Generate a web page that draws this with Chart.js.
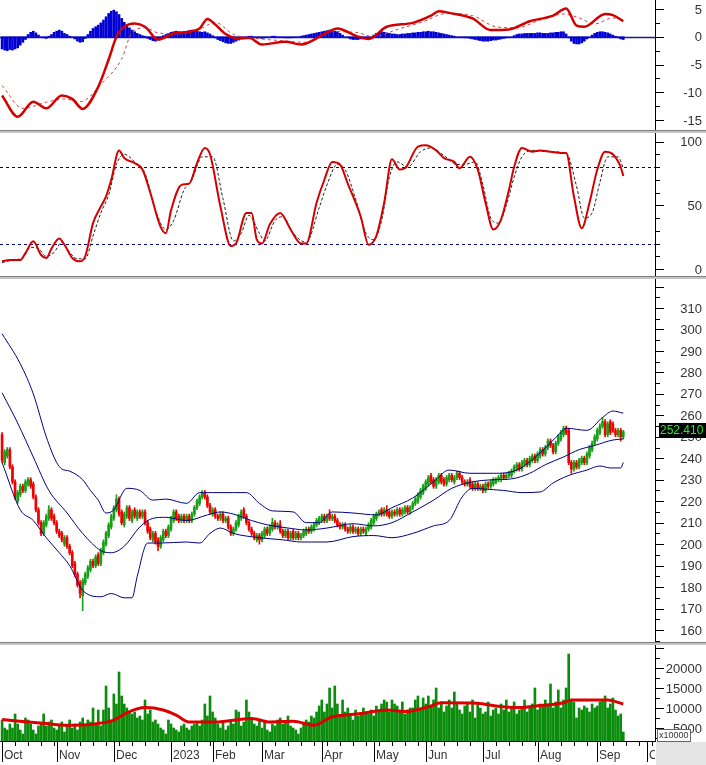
<!DOCTYPE html>
<html><head><meta charset="utf-8">
<script src="https://cdn.jsdelivr.net/npm/chart.js@4.4.0/dist/chart.umd.min.js"></script>
<style>
html,body{margin:0;padding:0;background:#fff;}
#wrap{position:relative;width:706px;height:765px;overflow:hidden;background:#fff;}
canvas{position:absolute;left:0;}
.sep{position:absolute;left:0;width:706px;height:3px;background:#c4c4c4;border-top:1px solid #808080;box-sizing:border-box;}
</style></head><body>
<div id="wrap">
<canvas id="cMacd" width="706" height="130" style="top:0px"></canvas>
<div class="sep" style="top:130px"></div>
<canvas id="cStoch" width="706" height="143" style="top:133px"></canvas>
<div class="sep" style="top:276px"></div>
<canvas id="cPrice" width="706" height="363" style="top:279px"></canvas>
<div class="sep" style="top:642px"></div>
<canvas id="cVol" width="706" height="120" style="top:645px"></canvas>
</div>
<script>
// ---------- DATA ----------
const monthLabels = ['Oct','Nov','Dec','2023','Feb','Mar','Apr','May','Jun','Jul','Aug','Sep','Oct'];
const monthStarts = [0,21,43,65,81,100,123,143,163,185,206,229,248];

const opens = [
251,238,241,244,236,229,220,223,227,225,
228,230,228,222,216,210,205,209,212,216,
213,210,206,205,200,203,199,196,191,186,
182,176,182,185,188,192,190,195,191,196,
200,204,208,212,216,221,215,209,213,217,
211,216,212,215,213,215,210,207,202,205,
202,199,202,206,204,207,211,215,213,211,
213,211,213,211,214,217,219,222,224,222,
218,214,216,213,212,214,211,212,208,205,
207,209,212,216,213,210,207,205,202,204,
202,204,207,205,207,210,208,209,206,204,
206,203,206,203,205,203,204,205,207,206,
207,209,210,211,213,211,214,212,213,211,
209,208,209,207,206,208,206,207,205,207,
205,207,208,210,212,214,216,214,216,215,
213,215,214,216,214,215,217,215,217,219,
220,222,224,226,228,232,230,227,229,232,
230,228,230,232,229,231,233,231,229,228,
230,228,226,228,226,227,225,228,227,228,
229,230,230,232,231,232,232,234,235,237,
235,237,239,237,239,241,239,241,244,242,
245,248,246,243,247,249,251,254,253,238,
235,238,236,238,240,238,241,244,247,249,
252,255,257,251,257,256,253,251,253,250];

const highs = [
252,244,245,245,237,230,225,228,228,230,
231,231,229,223,217,211,211,214,218,217,
214,211,207,206,204,204,200,197,192,187,
183,184,187,190,193,193,195,196,198,202,
206,210,214,218,223,222,216,215,218,218,
216,217,216,216,216,216,211,208,206,206,
203,204,207,207,209,213,216,216,214,214,
214,214,214,215,218,221,223,225,225,223,
219,217,217,214,215,215,213,213,209,208,
211,214,216,217,214,211,208,206,205,205,
206,208,208,209,212,211,210,211,207,207,
207,206,207,206,206,205,207,208,208,209,
210,212,213,214,214,214,216,214,214,212,
210,210,210,208,209,209,208,208,208,208,
208,210,212,214,215,216,217,217,218,216,
216,216,217,217,217,218,218,218,220,222,
224,226,228,230,232,233,231,231,233,233,
231,232,233,233,232,234,234,232,230,230,
231,229,229,229,228,228,229,229,230,231,
231,232,233,233,233,234,235,237,238,238,
239,240,240,241,242,242,243,245,245,246,
249,249,247,248,251,253,255,255,254,239,
239,239,240,241,241,243,246,248,251,254,
256,259,258,257,258,257,254,254,254,253];

const lows = [
238,237,240,235,228,221,219,222,224,224,
227,226,221,215,209,204,204,208,211,211,
209,205,203,201,199,198,195,189,185,180,
175,169,181,184,187,189,189,190,190,195,
199,203,207,211,215,213,209,208,212,211,
210,212,211,212,212,209,205,202,201,200,
197,198,201,203,203,206,210,211,210,210,
210,210,210,210,213,216,218,221,221,217,
214,213,212,211,211,210,210,207,204,204,
206,208,211,212,209,206,204,202,201,200,
201,203,204,204,206,207,207,205,203,203,
202,202,202,202,202,202,203,204,205,205,
206,208,209,210,210,210,211,211,210,208,
207,207,206,205,205,205,205,204,204,205,
204,206,207,209,211,213,213,213,213,212,
212,213,213,213,213,214,214,214,216,218,
219,221,223,225,227,228,226,226,228,228,
227,227,229,229,228,230,230,228,227,227,
226,225,225,225,225,224,224,226,226,227,
228,229,229,230,230,231,231,233,234,234,
234,236,236,236,238,238,238,240,241,241,
244,245,242,242,246,248,250,251,237,233,
234,235,235,237,237,237,240,243,246,248,
251,254,250,250,251,252,250,250,248,249];

const closes = [
239,243,244,236,229,222,224,227,225,229,
230,227,222,216,210,205,210,213,216,212,
210,206,204,202,203,199,196,190,186,181,
177,183,186,189,192,190,194,191,197,201,
205,209,213,217,221,214,210,214,217,212,
215,213,215,213,215,210,206,203,205,201,
199,203,206,204,208,212,215,212,211,213,
211,213,211,214,217,220,222,224,222,218,
215,216,213,212,214,211,212,208,205,207,
210,213,215,213,210,207,205,203,204,202,
205,207,205,208,210,208,209,206,204,206,
203,205,203,205,203,204,206,207,206,208,
209,211,212,213,211,213,212,213,211,209,
208,209,207,206,208,206,207,205,207,206,
207,209,211,213,214,215,214,216,214,213,
215,214,216,214,216,217,215,217,219,221,
223,225,227,229,231,229,227,230,232,229,
228,231,232,230,231,233,231,229,228,229,
227,226,228,226,227,225,228,227,229,230,
230,231,232,231,232,233,234,236,237,235,
238,239,237,240,241,239,242,244,242,245,
248,246,243,247,250,252,254,252,238,235,
238,236,239,240,238,242,245,247,250,253,
255,257,251,256,252,253,251,253,250,252.41];

// volume in units of 10000
const volumes = [
7000,5000,4500,6000,5000,8500,6000,4500,3500,7500,
7000,6000,4500,3500,5500,6000,8500,5500,6500,7000,
5000,4500,5500,6500,4000,5500,7000,5000,6000,4500,
6500,7500,5500,7000,6500,10000,6000,9500,5500,9500,
15500,10000,7000,13500,11000,19000,13000,11000,10000,9000,
8500,9000,7500,8000,7000,12000,8500,9500,6500,7000,
6000,5000,4500,3500,7000,6000,5000,4500,4000,5500,
6000,5000,4500,5500,6000,6500,5500,7000,11000,8000,
13000,9000,7500,6000,5000,6500,4500,5500,7000,6000,
9500,9000,5500,6500,12000,9000,7500,6000,5500,7000,
5000,6500,4500,4000,6000,5500,7000,7500,6000,6500,
8000,5500,5000,4500,3500,5000,6000,7000,6500,8000,
7500,9000,10500,12000,9000,11000,15000,10000,15500,11000,
8000,12000,9000,10000,8500,7000,9500,8000,8500,10000,
9000,8500,9500,8000,10500,9000,11000,12000,11500,9000,
12000,11000,10500,9000,11500,8500,9500,10000,10000,12000,
13000,9500,12500,11000,13000,10500,12000,15000,10000,11500,
9000,10500,12000,10000,14000,11000,9500,8500,10500,11000,
9000,12000,7500,11000,10000,8500,9000,11500,8000,9500,
10000,8500,11000,9500,12000,9000,10000,11500,8500,9500,
10000,12000,9000,10500,11000,15000,9500,11000,10500,12000,
11000,16000,10000,11500,14500,10000,12000,15000,23500,12000,
11500,7500,10000,9500,10500,10000,9000,11000,10000,10500,
11500,12000,13000,10000,11000,12500,9500,8000,8500,4000];

const volMA = [[0,7100],[17,6100],[25,5700],[34,5900],[43,6950],[48,8800],[55,10100],[62,9500],[67,8200],[72,6500],[82,6500],[96,7400],[103,6500],[112,6700],[120,5700],[127,7800],[138,8600],[148,9500],[155,9100],[164,10300],[169,11300],[183,11200],[190,10500],[199,10100],[207,10600],[216,11300],[219,12000],[230,12000],[233,12000],[239,11000]];

const macdHist = [
-2.2,-2.4,-2.5,-2.3,-2.4,-2.2,-2.0,-1.5,-1.0,-0.5,
0.4,0.8,1.0,0.7,0.3,-0.1,-0.2,-0.3,0.1,0.4,
0.8,1.0,1.2,1.0,0.6,0.4,0.1,-0.1,-0.4,-0.8,
-1.0,-0.9,-0.3,0.4,1.0,1.5,1.8,2.1,2.5,3.0,
3.6,4.2,4.6,4.8,4.5,4.0,3.3,2.6,2.0,1.6,
1.2,0.9,0.6,0.4,0.2,0.1,-0.3,-0.5,-0.7,-0.8,
-0.6,-0.3,0.2,0.4,0.6,0.8,0.9,1.0,0.9,0.8,
0.9,1.0,1.1,1.2,1.1,1.0,0.9,0.8,0.9,0.7,
0.5,0.2,-0.2,-0.5,-0.7,-0.9,-1.1,-1.2,-1.2,-1.0,
-0.8,-0.6,-0.3,-0.1,0.0,0.1,0.1,0.0,-0.1,-0.2,
-0.3,-0.2,-0.1,0.0,0.1,0.1,0.0,-0.1,-0.1,-0.2,
-0.2,-0.2,-0.1,-0.1,0.0,0.1,0.2,0.3,0.4,0.5,
0.6,0.7,0.8,0.9,1.0,1.1,1.2,1.1,1.0,0.9,
0.6,0.3,0.0,-0.2,-0.4,-0.5,-0.5,-0.5,-0.4,-0.4,
-0.3,-0.2,0.0,0.3,0.6,0.8,0.9,0.8,0.7,0.6,
0.5,0.5,0.4,0.4,0.5,0.5,0.6,0.6,0.7,0.7,
0.8,0.8,0.9,0.9,1.0,0.9,0.9,0.8,0.7,0.6,
0.5,0.4,0.3,0.2,0.1,0.0,-0.1,-0.1,-0.2,-0.2,
-0.3,-0.4,-0.5,-0.6,-0.7,-0.8,-0.8,-0.8,-0.7,-0.6,
-0.6,-0.5,-0.4,-0.3,-0.2,-0.1,0.0,0.2,0.4,0.5,
0.5,0.6,0.6,0.6,0.6,0.6,0.7,0.7,0.6,0.6,
0.6,0.7,0.7,0.8,0.8,0.9,0.9,0.5,-0.2,-0.8,
-1.2,-1.3,-1.3,-1.1,-0.8,-0.4,0.0,0.3,0.6,0.8,
0.9,0.9,0.8,0.7,0.5,0.3,0.1,-0.2,-0.4,-0.5];

const macdLine = [[0,-10.6],[6,-14.4],[12,-11.7],[17,-12.9],[23,-10.6],[27,-11.2],[31,-13.0],[37,-9.0],[41,-4.1],[44,0],[47,1.8],[51,2.4],[55,1.8],[60,-0.5],[66,0.6],[72,0.9],[76,1.5],[79,3.2],[82,2.2],[86,0.5],[91,-0.3],[95,-0.2],[100,-1.4],[109,-0.9],[115,-1.4],[124,0.5],[129,1.5],[136,0.2],[141,-0.4],[148,1.8],[158,2.5],[165,3.8],[168,4.6],[172,4.3],[181,3.3],[188,1.2],[195,1.3],[203,2.8],[212,3.8],[217,5.1],[221,2.0],[224,1.8],[232,4.1],[235,3.9],[239,2.8]];
const macdSignal = [[0,-8.8],[8,-12.9],[17,-11.8],[24,-11.2],[30,-11.7],[39,-8.1],[46,-4.0],[50,0.8],[55,1.6],[60,0.7],[68,0.5],[77,1.6],[82,2.6],[89,0.4],[96,-0.2],[107,-0.7],[117,-1.0],[127,0.9],[136,0.8],[143,0.0],[152,1.3],[162,2.7],[171,4.2],[181,3.8],[190,1.8],[198,1.6],[207,3.0],[216,4.1],[222,3.4],[228,2.3],[235,3.4],[239,3.0]];

const stochK = [[0,6],[3,7],[7,7],[9,12.5],[12,21.7],[15,11],[17,8.6],[19,16],[22,24],[24,19],[27,8.6],[30,6],[32,10],[35,36],[38,49],[40,57],[42,70],[45,93],[47,87],[51,83],[54,78],[57,60],[61,33],[63,28],[65,46],[69,66],[72,67],[75,83],[78,95],[80,90],[84,49],[88,18],[90,20],[94,44],[96,44],[98,23],[100,20],[103,35],[107,44],[111,31],[115,20],[117,20],[121,52],[124,70],[127,84],[130,82],[133,67],[138,41],[141,19],[144,26],[147,52],[150,86],[153,78],[155,79],[160,96],[163,97],[167,93],[170,87],[174,84],[176,79],[180,88],[183,78],[186,52],[189,31],[192,39],[195,62],[197,80],[200,95],[204,92],[207,93],[211,92],[215,91],[217,91],[220,57],[223,32],[226,52],[229,78],[232,92],[235,90],[238,80],[239,73]];
const stochD = [[0,5],[4,7],[8,9],[11,17],[14,16],[17,10],[20,13],[23,21],[26,13],[29,8],[32,8],[35,26],[38,44],[41,58],[44,82],[47,90],[51,84],[55,75],[59,46],[63,31],[66,38],[70,62],[73,70],[77,88],[81,88],[85,55],[89,22],[92,28],[95,42],[99,28],[101,22],[105,38],[108,41],[112,28],[117,21],[122,48],[125,66],[129,82],[132,78],[136,55],[140,28],[143,23],[146,38],[149,72],[152,84],[156,80],[161,92],[165,95],[170,89],[175,82],[178,82],[182,84],[185,66],[188,40],[191,36],[194,50],[197,72],[200,88],[204,93],[210,92],[217,91],[221,65],[224,40],[227,44],[230,68],[233,88],[237,88],[239,79]];
const stochLevels = [20, 80];

const bbUpper = [[0,298],[7,284],[12,270],[17,250],[21,238],[23,235],[26,234],[31,230],[34,225],[37,220.5],[40,214.5],[43,216],[48,226],[53,225],[58,220.5],[63,221],[71,219],[76,224],[81,224],[89,224],[94,224],[99,219],[104,215.5],[112,215],[117,210],[122,210],[127,215],[135,214.5],[144,213.6],[150,217],[158,221.5],[166,229],[172,234.5],[180,233],[189,233],[198,234.5],[207,242.5],[215,252],[217,254],[225,253],[231,259],[235,262],[239,261]];
const bbMid = [[0,270.5],[6,256.4],[12,240.6],[18,225],[25,214.5],[31,205],[38,197],[42,196],[47,199],[53,208],[58,212],[63,212.5],[71,211],[79,213.6],[84,215],[89,214],[96,211],[102,209],[110,207.5],[117,206.6],[125,207.5],[135,209.5],[143,208.5],[150,210],[158,215],[166,220.5],[173,226],[181,229],[189,230],[196,230.4],[203,233],[209,237],[216,240.6],[222,244],[228,246],[235,248.5],[239,249]];
const bbLower = [[0,238],[7,216],[12,211],[17,203],[22,196],[26,190],[31,178.5],[38,175.5],[42,177],[47,175],[50,175],[52,185],[56,200.5],[61,200.5],[71,201],[76,200.5],[80,205],[84,207.5],[89,205],[99,203],[108,202],[115,201],[125,201],[135,203.5],[143,204],[150,203],[158,205],[166,208.5],[172,211],[177,222],[181,226],[185,225.7],[193,225],[200,224],[207,224.3],[212,228.5],[218,232],[225,234.5],[230,236.4],[234,235.5],[238,235.5],[239,238]];

const macdTickLabels = [5,0,-5,-10,-15];
const stochTickLabels = [0,50,100];
const priceTickLabels = [160,170,180,190,200,210,220,230,240,250,260,270,280,290,300,310];
const volTickLabels = [5000,10000,15000,20000];

// ---------- RENDERING ----------
const X_MIN = -0.8, X_MAX = 251.2;
const GREEN = '#16a016', RED = '#f00000', NAVY = '#000080';
const idx = closes.map((_, i) => i);
const pts = arr => arr.map(([x, y]) => ({x, y}));
const isUp = i => closes[i] >= opens[i];
const AXIS_FONT = '13px "Liberation Sans", Arial, sans-serif';

function baseOptions(ymin, ymax, bottomPad) {
  return {
    responsive: false, animation: false, devicePixelRatio: 1, maintainAspectRatio: false,
    layout: {padding: {left: 0, top: 0, right: 51, bottom: bottomPad || 0}},
    plugins: {legend: {display: false}, tooltip: {enabled: false}},
    scales: {
      x: {type: 'linear', min: X_MIN, max: X_MAX, display: false, offset: false},
      y: {type: 'linear', min: ymin, max: ymax, display: false}
    }
  };
}

function rightAxis(opt) {
  return {id: 'rightAxis', afterDraw(chart) {
    const ctx = chart.ctx, a = chart.chartArea, ys = chart.scales.y;
    ctx.save();
    ctx.strokeStyle = '#000'; ctx.lineWidth = 1;
    ctx.beginPath();
    ctx.moveTo(a.right + 0.5, a.top); ctx.lineTo(a.right + 0.5, a.bottom);
    const start = Math.ceil(ys.min / opt.minor) * opt.minor;
    for (let k = 0; ; k++) {
      const v = start + k * opt.minor;
      if (v > ys.max) break;
      const py = Math.round(ys.getPixelForValue(v)) + 0.5;
      const r = v / opt.major;
      const isMaj = Math.abs(r - Math.round(r)) < 1e-6;
      ctx.moveTo(a.right, py); ctx.lineTo(a.right + (isMaj ? 9 : 5), py);
    }
    ctx.stroke();
    ctx.font = AXIS_FONT; ctx.fillStyle = '#333'; ctx.textAlign = 'right'; ctx.textBaseline = 'middle';
    opt.labels.forEach(v => ctx.fillText(String(v), 702, ys.getPixelForValue(v) + 1));
    if (opt.after) opt.after(chart);
    ctx.restore();
  }};
}

function hLines(levels, color, dash, width) {
  return {id: 'hLines', beforeDatasetsDraw(chart) {
    const ctx = chart.ctx, a = chart.chartArea, ys = chart.scales.y;
    ctx.save();
    ctx.strokeStyle = color; ctx.lineWidth = width; ctx.setLineDash(dash);
    ctx.beginPath();
    levels.forEach(v => { const py = Math.round(ys.getPixelForValue(v)) + 0.5; ctx.moveTo(a.left, py); ctx.lineTo(a.right, py); });
    ctx.stroke();
    ctx.restore();
  }};
}

function lineDS(data, color, width, dash, order) {
  return {type: 'line', data: pts(data), borderColor: color, borderWidth: width, borderDash: dash || [],
    pointRadius: 0, fill: false, tension: 0.35, cubicInterpolationMode: 'monotone', order: order || 0};
}

// MACD panel
new Chart(document.getElementById('cMacd'), {
  type: 'bar',
  data: {datasets: [
    lineDS(macdLine, '#d40000', 2.5, [], 0),
    lineDS(macdSignal, '#d04040', 1, [3, 3], 1),
    {type: 'bar', data: idx.map(i => ({x: i, y: macdHist[i]})), backgroundColor: '#0000d0',
     barThickness: 2, grouped: false, order: 5}
  ]},
  options: baseOptions(-16.8, 6.62),
  plugins: [hLines([0], '#1a1a90', [], 1.5), rightAxis({major: 5, minor: 2.5, labels: macdTickLabels})]
});

// Stochastic panel
new Chart(document.getElementById('cStoch'), {
  type: 'line',
  data: {datasets: [
    lineDS(stochK, '#d40000', 2, [], 0),
    lineDS(stochD, '#222222', 1, [3, 2], 1)
  ]},
  options: baseOptions(-5.49, 106.67),
  plugins: [hLines(stochLevels, NAVY, [3, 3], 1), rightAxis({major: 50, minor: 10, labels: stochTickLabels})]
});

// Price panel
const priceTag = {id: 'priceTag', afterDraw(chart) {
  const ctx = chart.ctx, a = chart.chartArea, ys = chart.scales.y;
  const last = closes[closes.length - 1];
  const py = Math.round(ys.getPixelForValue(last)) - 2;
  ctx.save();
  ctx.fillStyle = '#000'; ctx.fillRect(a.right + 4, py - 7, 47, 15);
  ctx.font = '12px "Liberation Sans", Arial, sans-serif'; ctx.fillStyle = '#22ee22';
  ctx.textAlign = 'left'; ctx.textBaseline = 'middle';
  ctx.fillText(last.toFixed(3), a.right + 5, py + 1);
  ctx.restore();
}};
new Chart(document.getElementById('cPrice'), {
  type: 'bar',
  data: {datasets: [
    lineDS(bbUpper, NAVY, 1, [], 0),
    lineDS(bbMid, NAVY, 1, [], 0),
    lineDS(bbLower, NAVY, 1, [], 0),
    {type: 'bar', data: idx.map(i => ({x: i, y: [lows[i], highs[i]]})),
     backgroundColor: idx.map(i => isUp(i) ? GREEN : RED), barThickness: 1, grouped: false, order: 6},
    {type: 'bar', data: idx.map(i => ({x: i, y: [opens[i], closes[i]]})),
     backgroundColor: idx.map(i => isUp(i) ? GREEN : RED), barThickness: 2, grouped: false, order: 5}
  ]},
  options: baseOptions(154.41, 323.51),
  plugins: [rightAxis({major: 10, minor: 5, labels: priceTickLabels}), priceTag]
});

// Volume panel
const xAxisDraw = {id: 'xAxisDraw', afterDraw(chart) {
  const ctx = chart.ctx, a = chart.chartArea, xs = chart.scales.x, H = chart.height, W = chart.width;
  ctx.save();
  ctx.fillStyle = '#e4e4e4'; ctx.fillRect(a.right + 1, a.bottom + 1, W - a.right - 1, H - a.bottom - 1);
  ctx.strokeStyle = '#000'; ctx.lineWidth = 1;
  ctx.beginPath();
  ctx.moveTo(0, a.bottom + 0.5); ctx.lineTo(a.right + 1, a.bottom + 0.5);
  for (let i = 0; i <= X_MAX; i += 5) {
    const px = Math.round(xs.getPixelForValue(i)) + 0.5;
    if (px >= a.right) break;
    ctx.moveTo(px, a.bottom); ctx.lineTo(px, a.bottom + 5);
  }
  monthStarts.forEach(i => {
    const px = Math.round(xs.getPixelForValue(i)) + 0.5;
    if (px < a.right) { ctx.moveTo(px, a.bottom); ctx.lineTo(px, H - 3); }
  });
  ctx.stroke();
  ctx.beginPath(); ctx.rect(0, a.bottom, a.right, H - a.bottom); ctx.clip();
  ctx.font = '12px "Liberation Sans", Arial, sans-serif'; ctx.fillStyle = '#333';
  ctx.textAlign = 'left'; ctx.textBaseline = 'alphabetic';
  monthStarts.forEach((i, k) => ctx.fillText(monthLabels[k], Math.round(xs.getPixelForValue(i)) + 2, H - 6));
  ctx.restore();
}};
const multBox = chart => {
  const ctx = chart.ctx, a = chart.chartArea;
  ctx.fillStyle = '#fff'; ctx.fillRect(a.right + 2, a.bottom - 12, 33, 12);
  ctx.strokeStyle = '#666'; ctx.lineWidth = 1; ctx.strokeRect(a.right + 2.5, a.bottom - 11.5, 33, 12);
  ctx.font = '9px "Liberation Sans", Arial, sans-serif'; ctx.fillStyle = '#333';
  ctx.textAlign = 'left'; ctx.textBaseline = 'middle';
  ctx.fillText('x10000', a.right + 4, a.bottom - 5);
};
new Chart(document.getElementById('cVol'), {
  type: 'bar',
  data: {datasets: [
    lineDS(volMA, '#dd0000', 3, [], 0),
    {type: 'bar', data: idx.map(i => ({x: i, y: volumes[i]})), backgroundColor: '#0c8c0c',
     barThickness: 2, grouped: false, order: 5}
  ]},
  options: baseOptions(1750, 25750, 24),
  plugins: [rightAxis({major: 5000, minor: 2500, labels: volTickLabels, after: multBox}), xAxisDraw]
});
</script>
</body></html>
